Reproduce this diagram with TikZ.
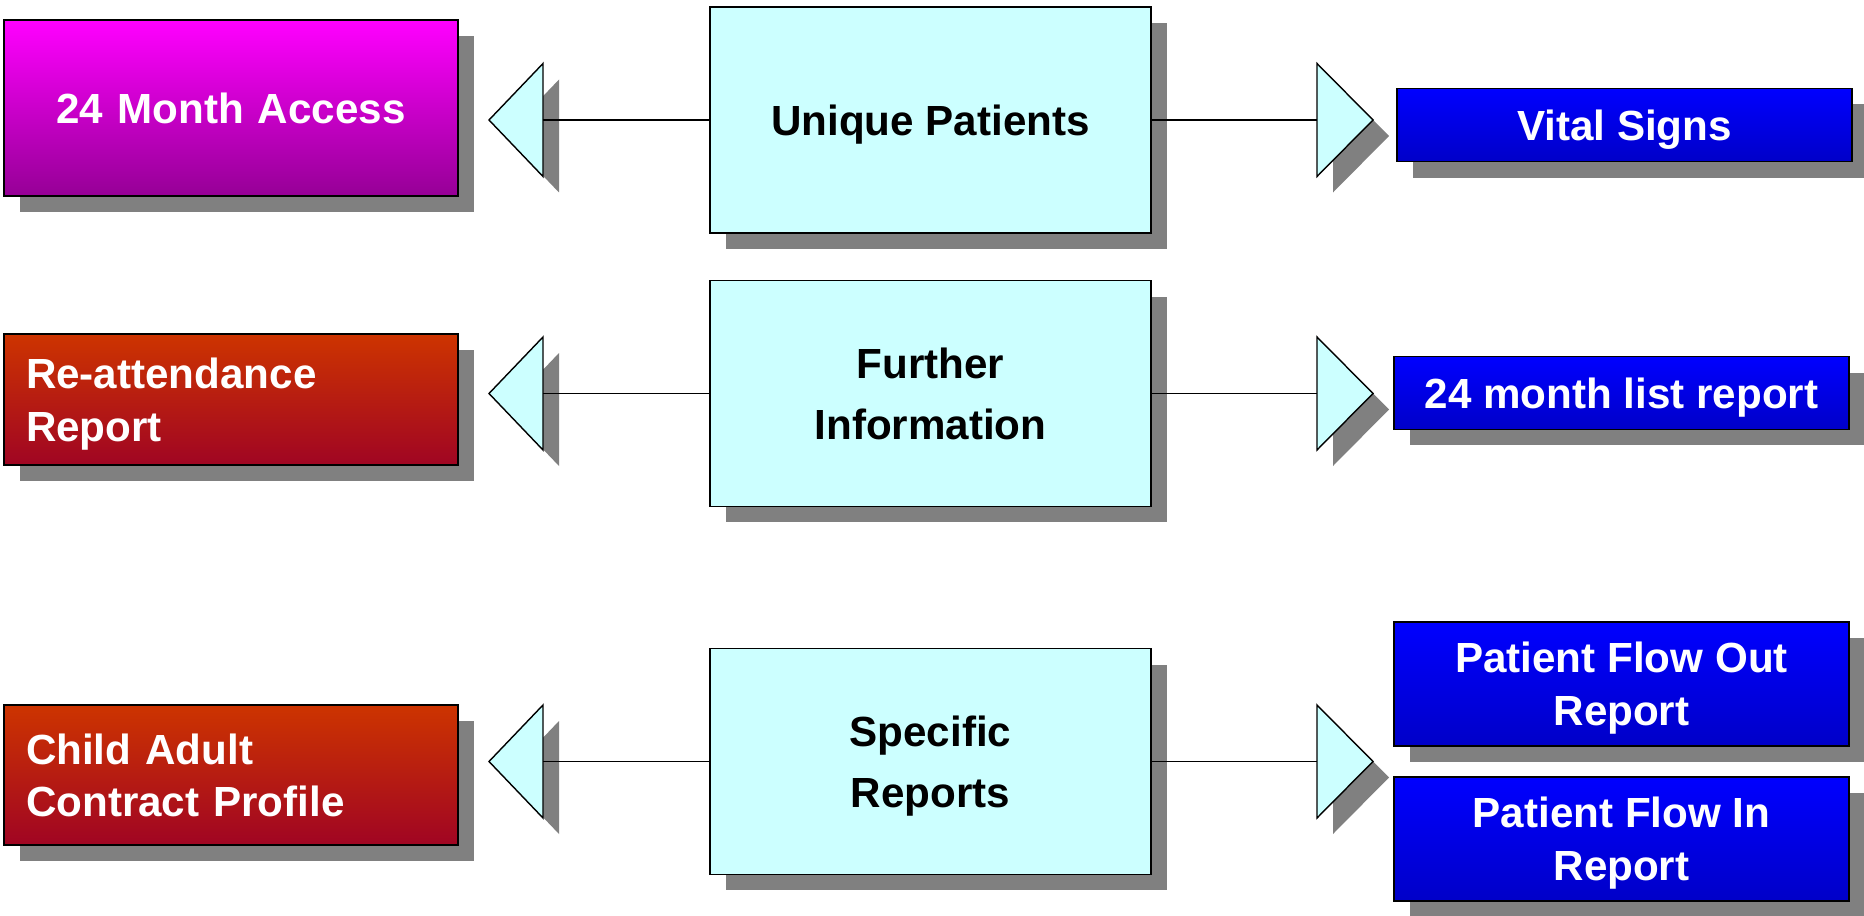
\documentclass[tikz,border=0pt]{standalone}
\usepackage{fontspec}
\setmainfont{Liberation Sans}
\usetikzlibrary{shadows}

\definecolor{paleCyan}{RGB}{204,255,255}
\definecolor{shadowGray}{RGB}{128,128,128}
\definecolor{magTop}{RGB}{255,0,255}
\definecolor{magBot}{RGB}{150,0,150}
\definecolor{redTop}{RGB}{205,52,0}
\definecolor{redBot}{RGB}{160,5,35}
\definecolor{blueTop}{RGB}{0,0,255}
\definecolor{blueBot}{RGB}{0,0,200}

\tikzset{
  shadowed/.style={draw=black,line width=0.8pt,
    drop shadow={opacity=1,fill=shadowGray,shadow xshift=0.32cm,shadow yshift=-0.32cm}},
  midbox/.style={shadowed,fill=paleCyan,minimum width=8.82cm,minimum height=4.52cm,
    text depth=0pt,align=center,font=\fontsize{24}{35}\selectfont\bfseries},
  leftbox/.style={shadowed,minimum width=9.08cm,text width=8.2cm,inner xsep=0.44cm,
    text height=17.5pt,text depth=30pt,
    align=left,text=white,font=\fontsize{24}{30}\selectfont\bfseries},
  rightbox/.style={shadowed,top color=blueTop,bottom color=blueBot,minimum width=9.1cm,
    text depth=0pt,align=center,text=white,font=\fontsize{24}{30}\selectfont\bfseries},
  pinkfill/.style={top color=magTop,bottom color=magBot},
  redfill/.style={top color=redTop,bottom color=redBot},
  pointer/.style={shadowed,fill=paleCyan},
  link/.style={line width=0.8pt}
}

\begin{document}
\begin{tikzpicture}[x=0.02cm,y=-0.02cm]
\useasboundingbox (0,0) rectangle (1864,916);

% middle column
\node[midbox] (unique) at (930.5,120) {Unique Patients};
\node[midbox] (further) at (930.5,393.5) {Further\\Information};
\node[midbox] (specific) at (930.5,761.5) {Specific\\Reports};

% left column
\node[leftbox,pinkfill,minimum height=3.52cm,text depth=0pt,align=center] (access) at (231,108) {24 Month Access};
\node[leftbox,redfill,minimum height=2.62cm] (reattend) at (231,399.5) {Re-attendance\\Report};
\node[leftbox,redfill,minimum height=2.8cm] (contract) at (231,775) {Child Adult\\Contract Profile};

% right column
\node[rightbox,minimum height=1.47cm] (vital) at (1624.5,125) {Vital Signs};
\node[rightbox,minimum height=1.46cm] (monthlist) at (1621.5,393) {24 month list report};
\node[rightbox,minimum height=2.48cm] (flowout) at (1621.5,684) {Patient Flow Out\\Report};
\node[rightbox,minimum height=2.48cm] (flowin) at (1621.5,839) {Patient Flow In\\Report};

% pointers and links
\foreach \name/\y in {unique/120,further/393.5,specific/761.5}{
  \filldraw[pointer] (543,\y-56.5) -- (489,\y) -- (543,\y+56.5) -- cycle;
  \filldraw[pointer] (1317,\y-56.5) -- (1373,\y) -- (1317,\y+56.5) -- cycle;
  \coordinate (\name-l) at (543,\y);
  \coordinate (\name-r) at (1317,\y);
  \draw[link] (\name.west) -- (\name-l);
  \draw[link] (\name.east) -- (\name-r);
}

\end{tikzpicture}
\end{document}
